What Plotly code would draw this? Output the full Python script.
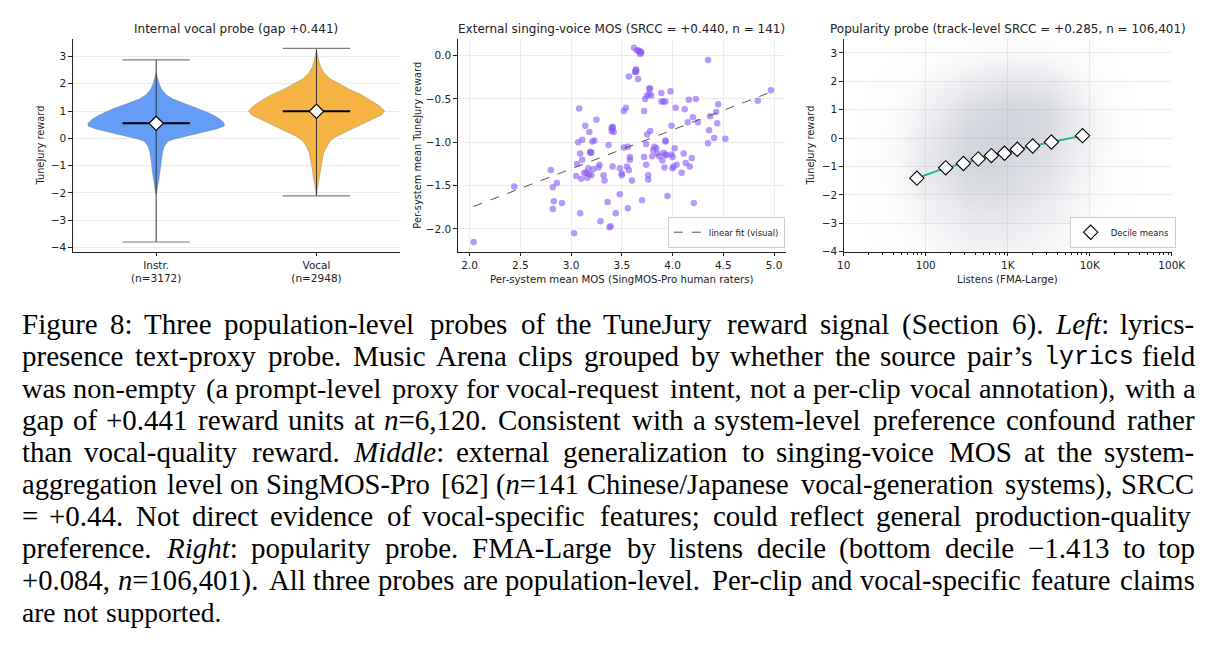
import plotly.graph_objects as go

FIG_W, FIG_H = 1229, 656


def fx(p):
    return p / FIG_W


def fy(p):
    return 1 - p / FIG_H


# ------------------------------------------------------------------ data
violin_groups = ["Instr.", "Vocal"]
violin_n = [3172, 2948]
violin_mean = [0.549, 0.990]
violin_min = [-3.80, -2.11]
violin_max = [2.88, 3.30]
violin_colors = ["#639df5", "#f6b444"]

# relative KDE profile (reward level, relative density)
instr_kde_y = [2.40, 2.2, 2.0, 1.8, 1.6, 1.45, 1.33, 1.2, 1.09, 0.95, 0.84, 0.7, 0.55, 0.45,
               0.35, 0.24, 0.15, 0.06, -0.03, -0.12, -0.3, -0.5, -0.8, -1.2, -1.5, -1.7, -1.9, -2.06]
instr_kde_d = [0.0, 0.02, 0.045, 0.08, 0.15, 0.24, 0.36, 0.5, 0.63, 0.76, 0.85, 0.94, 1.0, 1.0,
               0.9, 0.72, 0.55, 0.40, 0.26, 0.17, 0.12, 0.095, 0.075, 0.058, 0.042, 0.03, 0.015, 0.0]
vocal_kde_y = [3.25, 3.0, 2.8, 2.6, 2.4, 2.2, 2.0, 1.8, 1.6, 1.4, 1.2, 1.0, 0.85, 0.7, 0.5,
               0.35, 0.2, 0.05, -0.1, -0.3, -0.5, -0.8, -1.1, -1.4, -1.7, -1.95, -2.05]
vocal_kde_d = [0.0, 0.02, 0.04, 0.065, 0.11, 0.19, 0.33, 0.48, 0.66, 0.80, 0.92, 1.0, 0.95, 0.82,
               0.66, 0.52, 0.40, 0.28, 0.2, 0.15, 0.11, 0.085, 0.065, 0.048, 0.03, 0.01, 0.0]

mos_x = [2.04, 2.44, 2.80, 2.82, 2.82, 2.83, 2.86, 2.91, 3.03, 3.05, 3.06, 3.07, 3.08, 3.09, 3.09,
         3.10, 3.11, 3.11, 3.13, 3.14, 3.15, 3.16, 3.17, 3.18, 3.18, 3.19, 3.20, 3.20, 3.21, 3.22,
         3.23, 3.25, 3.27, 3.28, 3.29, 3.32, 3.33, 3.36, 3.37, 3.38, 3.39, 3.40, 3.40, 3.41, 3.42,
         3.41, 3.44, 3.48, 3.48, 3.50, 3.50, 3.52, 3.52, 3.54, 3.56, 3.56, 3.55, 3.57, 3.57, 3.58,
         3.58, 3.60, 3.62, 3.63, 3.64, 3.64, 3.65, 3.66, 3.67, 3.68, 3.69, 3.69, 3.70, 3.72, 3.72,
         3.73, 3.74, 3.74, 3.75, 3.75, 3.76, 3.76, 3.77, 3.77, 3.78, 3.78, 3.79, 3.80, 3.81, 3.82,
         3.84, 3.85, 3.87, 3.89, 3.89, 3.90, 3.91, 3.91, 3.92, 3.93, 3.93, 3.93, 3.94, 3.95, 3.98,
         3.99, 3.99, 4.00, 4.00, 4.01, 4.02, 4.03, 4.04, 4.09, 4.11, 4.12, 4.13, 4.15, 4.16, 4.17,
         4.20, 4.19, 4.21, 4.23, 4.25, 4.35, 4.35, 4.36, 4.37, 4.41, 4.43, 4.44, 4.45, 4.52, 4.84,
         4.97, 3.64, 3.41, 3.19, 3.93, 3.67]
mos_y = [-2.15, -1.51, -1.32, -1.52, -1.77, -1.68, -1.47, -1.70, -2.05, -1.39, -1.25, -1.00, -0.61,
         -1.13, -1.82, -1.42, -0.97, -1.20, -1.35, -0.81, -1.35, -1.41, -1.30, -0.88, -1.37, -1.12,
         -1.12, -1.38, -0.99, -1.31, -0.98, -0.74, -1.29, -1.26, -1.91, -1.38, -1.44, -1.69, -1.03,
         -1.98, -1.97, -0.83, -0.87, -0.82, -0.88, -1.28, -1.82, -1.30, -1.60, -1.36, -1.38, -0.64,
         -1.06, -0.60, -1.76, -1.05, -1.28, -1.32, -0.24, -1.17, -1.20, -1.44, 0.09, -0.19, -0.16,
         -0.19, 0.06, -0.27, 0.06, 0.02, 0.04, 0.04, -1.67, -0.64, -1.17, -0.50, -1.02, -1.26, -0.46,
         -0.91, -1.38, -1.43, -0.38, -0.44, -0.38, -0.87, -0.46, -1.16, -1.09, -1.05, -1.07, -1.13,
         -1.16, -0.43, -0.53, -1.21, -1.12, -0.53, -1.29, -0.53, -0.98, -1.14, -1.15, -1.62, -0.41,
         -0.81, -1.14, -1.17, -1.30, -1.28, -1.07, -0.60, -1.26, -1.35, -1.13, -0.62, -1.24, -0.77,
         -0.51, -1.28, -0.71, -1.18, -1.70, -0.50, -0.77, -0.05, -1.01, -0.86, -0.70, -0.95, -0.65,
         -0.78, -0.56, -0.96, -0.52, -0.40, -0.17, -0.84, -1.11, -0.99, 0.05]
fit_x = [2.04, 4.97]
fit_y = [-1.74, -0.42]

decile_listens = [78, 175, 288, 437, 631, 912, 1306, 2014, 3404, 8166]
decile_reward = [-1.413, -1.047, -0.895, -0.733, -0.616, -0.535, -0.395, -0.279, -0.140, 0.084]

# visual density of the 106,401-track cloud (rows = reward levels)
cloud_listens = [10, 31.6, 100, 316, 1000, 3162, 10000, 31623, 100000]
cloud_reward = [-4, -3, -2, -1, 0, 1, 2, 3, 4]
cloud_density = [
    [0.03, 0.10, 0.25, 0.38, 0.40, 0.32, 0.18, 0.06, 0.01],
    [0.04, 0.15, 0.35, 0.50, 0.52, 0.42, 0.25, 0.08, 0.02],
    [0.05, 0.20, 0.45, 0.62, 0.64, 0.52, 0.32, 0.10, 0.02],
    [0.05, 0.22, 0.52, 0.70, 0.70, 0.60, 0.36, 0.12, 0.02],
    [0.05, 0.22, 0.50, 0.70, 0.74, 0.66, 0.40, 0.13, 0.02],
    [0.04, 0.18, 0.42, 0.64, 0.72, 0.68, 0.40, 0.12, 0.02],
    [0.03, 0.12, 0.30, 0.48, 0.56, 0.52, 0.30, 0.08, 0.01],
    [0.02, 0.06, 0.15, 0.26, 0.32, 0.28, 0.15, 0.04, 0.01],
    [0.00, 0.02, 0.05, 0.10, 0.12, 0.10, 0.05, 0.01, 0.00],
]

log_tick_vals = [10, 100, 1000, 10000, 100000]
log_tick_text = ["10", "100", "1K", "10K", "100K"]
log_minor_vals = [m * 10 ** k for k in range(1, 5) for m in range(2, 10)]

panel_titles = [
    "Internal vocal probe (gap +0.441)",
    "External singing-voice MOS (SRCC = +0.440, n = 141)",
    "Popularity probe (track-level SRCC = +0.285, n = 106,401)",
]

caption_lines = [
    "Figure 8: Three population-level probes of the TuneJury reward signal (Section 6). *Left*: lyrics-",
    "presence text-proxy probe. Music Arena clips grouped by whether the source pair’s `lyrics` field",
    "was non-empty (a prompt-level proxy for vocal-request intent, not a per-clip vocal annotation), with a",
    "gap of +0.441 reward units at *n*=6,120. Consistent with a system-level preference confound rather",
    "than vocal-quality reward. *Middle*: external generalization to singing-voice MOS at the system-",
    "aggregation level on SingMOS-Pro [62] (*n*=141 Chinese/Japanese vocal-generation systems), SRCC",
    "= +0.44. Not direct evidence of vocal-specific features; could reflect general production-quality",
    "preference. *Right*: popularity probe. FMA-Large by listens decile (bottom decile −1.413 to top",
    "+0.084, *n*=106,401). All three probes are population-level. Per-clip and vocal-specific feature claims",
    "are not supported.",
]

# ------------------------------------------------------------------ layout geometry
TOP, BOT = 39, 254
PANELS = [(67, 400), (459, 793), (852, 1186)]
ydom = [fy(BOT), fy(TOP)]
CHART_FONT = "DejaVu Sans"
TXT = "#222222"

fig = go.Figure()

# ---------------- left: violins
HALF_W = 0.425
CAP = 0.21
kde = [(instr_kde_y, instr_kde_d), (vocal_kde_y, vocal_kde_d)]
for i, (ky, kd) in enumerate(kde):
    xs = [i + d * HALF_W for d in kd] + [i - d * HALF_W for d in reversed(kd)]
    ys = list(ky) + list(reversed(ky))
    fig.add_trace(go.Scatter(x=xs, y=ys, mode="lines", fill="toself", fillcolor=violin_colors[i],
                             line=dict(color="rgba(110,110,110,0.55)", width=0.6),
                             showlegend=False, hoverinfo="skip", xaxis="x", yaxis="y"))
    fig.add_trace(go.Scatter(x=[i, i], y=[violin_min[i], violin_max[i]], mode="lines",
                             line=dict(color="#333333", width=1), showlegend=False,
                             hoverinfo="skip", xaxis="x", yaxis="y"))
    for v in (violin_min[i], violin_max[i]):
        fig.add_trace(go.Scatter(x=[i - CAP, i + CAP], y=[v, v], mode="lines",
                                 line=dict(color="#7a7a7a", width=1.2), showlegend=False,
                                 hoverinfo="skip", xaxis="x", yaxis="y"))
    fig.add_trace(go.Scatter(x=[i - CAP, i + CAP], y=[violin_mean[i]] * 2, mode="lines",
                             line=dict(color="#000000", width=2), showlegend=False,
                             hoverinfo="skip", xaxis="x", yaxis="y"))
    fig.add_trace(go.Scatter(x=[i], y=[violin_mean[i]], mode="markers",
                             marker=dict(symbol="diamond", size=11, color="white",
                                         line=dict(color="black", width=1.2)),
                             showlegend=False, hoverinfo="skip", xaxis="x", yaxis="y"))

# ---------------- middle: scatter
fig.add_trace(go.Scatter(x=mos_x, y=mos_y, mode="markers",
                         marker=dict(size=6.5, color="rgba(139,92,246,0.62)", line=dict(width=0)),
                         showlegend=False, hoverinfo="skip", xaxis="x2", yaxis="y2"))
fig.add_trace(go.Scatter(x=fit_x, y=fit_y, mode="lines", name="linear fit (visual)",
                         line=dict(color="#555555", width=1, dash="dash"),
                         showlegend=True, legend="legend", xaxis="x2", yaxis="y2"))

# ---------------- right: popularity
fig.add_trace(go.Heatmap(x=cloud_listens, y=cloud_reward, z=cloud_density, zmin=0, zmax=1,
                         zsmooth="best", showscale=False, hoverinfo="skip",
                         colorscale=[[0, "rgba(255,255,255,0)"], [1, "rgba(105,115,140,0.58)"]],
                         xaxis="x3", yaxis="y3"))
fig.add_trace(go.Scatter(x=decile_listens, y=decile_reward, mode="lines",
                         line=dict(color="#1db386", width=1.8), showlegend=False,
                         hoverinfo="skip", xaxis="x3", yaxis="y3"))
fig.add_trace(go.Scatter(x=decile_listens, y=decile_reward, mode="markers", name="Decile means",
                         marker=dict(symbol="diamond", size=11, color="white",
                                     line=dict(color="black", width=1.1)),
                         showlegend=True, legend="legend2", xaxis="x3", yaxis="y3"))

axis_common = dict(showline=True, linecolor=TXT, linewidth=1, ticks="outside", ticklen=3.5,
                   tickwidth=0.8, tickcolor=TXT, zeroline=False,
                   tickfont=dict(family=CHART_FONT, size=10.5, color=TXT),
                   gridcolor="#ebebeb", gridwidth=1, fixedrange=True)

legend_common = dict(xanchor="right", yanchor="bottom", bgcolor="white",
                     bordercolor="#cccccc", borderwidth=1,
                     font=dict(family=CHART_FONT, size=8.5, color=TXT), itemwidth=30,
                     tracegroupgap=0)

fig.update_layout(
    width=FIG_W, height=FIG_H, margin=dict(l=0, r=0, t=0, b=0),
    paper_bgcolor="white", plot_bgcolor="white",
    xaxis=dict(domain=[fx(PANELS[0][0]), fx(PANELS[0][1])], range=[-0.52, 1.52],
               tickmode="array", tickvals=[0, 1],
               ticktext=[f"{g}<br>(n={n})" for g, n in zip(violin_groups, violin_n)],
               showgrid=False, anchor="y", **axis_common),
    yaxis=dict(domain=ydom, range=[-4.155, 3.655], dtick=1, tick0=0, showgrid=True,
               anchor="x", **axis_common),
    xaxis2=dict(domain=[fx(PANELS[1][0]), fx(PANELS[1][1])], range=[1.884, 5.116], dtick=0.5,
                tick0=0, tickformat=".1f", showgrid=True, anchor="y2", **axis_common),
    yaxis2=dict(domain=ydom, range=[-2.262, 0.196], dtick=0.5, tick0=0, tickformat=".1f",
                showgrid=True, anchor="x2", **axis_common),
    xaxis3=dict(domain=[fx(PANELS[2][0]), fx(PANELS[2][1])], type="log", range=[1, 5],
                tickmode="array", tickvals=log_tick_vals, ticktext=log_tick_text, showgrid=True,
                minor=dict(tickmode="array", tickvals=log_minor_vals, ticks="outside",
                           ticklen=2, tickwidth=0.6, tickcolor=TXT, showgrid=False),
                anchor="y3", **axis_common),
    yaxis3=dict(domain=ydom, range=[-4, 3.5], dtick=1, tick0=0, showgrid=True, anchor="x3",
                **axis_common),
    legend=dict(x=fx(792), y=fy(250), **legend_common),
    legend2=dict(x=fx(1190), y=fy(250), **legend_common),
)

annots = []
# panel titles
for (l, r), t in zip(PANELS, panel_titles):
    annots.append(dict(x=fx((l + r) / 2), y=fy(29), text=t, showarrow=False, xref="paper",
                       yref="paper", xanchor="center", yanchor="middle",
                       font=dict(family=CHART_FONT, size=12, color=TXT)))
# axis titles
ytitles = [(34, "TuneJury reward"), (418, "Per-system mean TuneJury reward"), (818, "TuneJury reward")]
for xp, t in ytitles:
    annots.append(dict(x=fx(xp), y=fy((TOP + BOT) / 2), text=t, textangle=-90, showarrow=False,
                       xref="paper", yref="paper", xanchor="center", yanchor="middle",
                       font=dict(family=CHART_FONT, size=9.8, color=TXT)))
xtitles = [((PANELS[1][0] + PANELS[1][1]) / 2, "Per-system mean MOS (SingMOS-Pro human raters)"),
           ((PANELS[2][0] + PANELS[2][1]) / 2, "Listens (FMA-Large)")]
for xp, t in xtitles:
    annots.append(dict(x=fx(xp), y=fy(282), text=t, showarrow=False, xref="paper", yref="paper",
                       xanchor="center", yanchor="middle",
                       font=dict(family=CHART_FONT, size=10.2, color=TXT)))

# ---------------- caption (justified, word by word, Times metrics)
REG = {' ': 250, '(': 333, ')': 333, '+': 564, ',': 250, '-': 333, '.': 250, '/': 278, ':': 278,
       ';': 278, '=': 564, '[': 333, ']': 333, '’': 333, '−': 564,
       'A': 722, 'B': 667, 'C': 667, 'D': 722, 'E': 611, 'F': 556, 'G': 722, 'H': 722, 'I': 333,
       'J': 389, 'K': 722, 'L': 611, 'M': 889, 'N': 722, 'O': 722, 'P': 556, 'Q': 722, 'R': 667,
       'S': 556, 'T': 611, 'U': 722, 'V': 722, 'W': 944, 'X': 722, 'Y': 722, 'Z': 611,
       'a': 444, 'b': 500, 'c': 444, 'd': 500, 'e': 444, 'f': 333, 'g': 500, 'h': 500, 'i': 278,
       'j': 278, 'k': 500, 'l': 278, 'm': 778, 'n': 500, 'o': 500, 'p': 500, 'q': 500, 'r': 333,
       's': 389, 't': 278, 'u': 500, 'v': 500, 'w': 722, 'x': 500, 'y': 500, 'z': 444}
ITAL = {'L': 556, 'M': 833, 'R': 611, 'e': 444, 'f': 278, 't': 278, 'i': 278, 'd': 500, 'l': 278,
        'g': 500, 'h': 500, 'n': 500, ':': 333}
MONO_SCALE = 0.86
WIDTH_CORR = 1.045  # rendered advance widths run slightly wider than the nominal metrics


def word_em(w):
    if w.startswith('`'):
        return 0.6 * MONO_SCALE * len(w.strip('`'))
    tot, it = 0.0, False
    for ch in w:
        if ch == '*':
            it = not it
            continue
        tot += (ITAL.get(ch, REG.get(ch, 500)) if it else REG.get(ch, 500)) / 1000
    return tot * WIDTH_CORR


def word_html(w):
    parts = w.split('*')
    out = ""
    for k, p in enumerate(parts):
        out += f"<i>{p}</i>" if k % 2 == 1 else p
    return out


CAP_L, CAP_R = 14, 1210
TARGET_GAP = 6.5
FS_MIN, FS_MAX, FS_LAST = 21.0, 29.0, 27.5
line_words = [ln.split(' ') for ln in caption_lines]

for li, words in enumerate(line_words):
    em = sum(word_em(w) for w in words)
    last = li == len(line_words) - 1
    if last:
        fs = FS_LAST
    else:
        fs = ((CAP_R - CAP_L) - TARGET_GAP * (len(words) - 1)) / em
        fs = max(FS_MIN, min(FS_MAX, fs))
    widths = [word_em(w) * fs for w in words]
    gap = 0.25 * fs if last else ((CAP_R - CAP_L) - sum(widths)) / (len(words) - 1)
    xcur = CAP_L
    ycen = 327 + 32.3 * li
    for w, wd in zip(words, widths):
        mono = w.startswith('`')
        annots.append(dict(x=fx(xcur), y=fy(ycen + (1 if mono else 0)),
                           text=w.strip('`') if mono else word_html(w),
                           showarrow=False, xref="paper", yref="paper", xanchor="left",
                           yanchor="middle", borderpad=0,
                           font=dict(family="Liberation Mono" if mono else "Liberation Serif",
                                     size=fs * (MONO_SCALE if mono else 1), color="black")))
        xcur += wd + gap

fig.update_layout(annotations=annots)
fig.write_html("out.html")
